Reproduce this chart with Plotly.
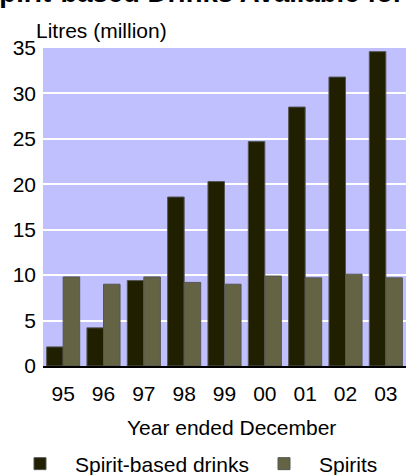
import plotly.graph_objects as go

years = ["95", "96", "97", "98", "99", "00", "01", "02", "03"]
spirit_based = [2.1, 4.2, 9.4, 18.6, 20.3, 24.7, 28.5, 31.8, 34.6]
spirits = [9.8, 9.0, 9.8, 9.2, 9.0, 9.9, 9.7, 10.1, 9.7]

FONT = "Liberation Sans, Arial, sans-serif"
W, H = 406, 475
# plot area in screen px: left 43, top 48, bottom 366, right 406
L, T = 43, 48
B = H - 366
R = 0
PW, PH = W - L - R, H - T - B

def px_x(s):  # screen px -> paper x
    return (s - L) / PW

def px_y(s):  # screen px -> paper y
    return (H - B - s) / PH

fig = go.Figure()
fig.add_trace(go.Bar(x=years, y=spirit_based, name="Spirit-based drinks", legend="legend",
                     marker=dict(color="#202000", line=dict(color="#555555", width=1))))
fig.add_trace(go.Bar(x=years, y=spirits, name="Spirits", legend="legend2",
                     marker=dict(color="#646444", line=dict(color="#555555", width=1))))

leg_common = dict(orientation="h", xref="container", yref="container", xanchor="left",
                  y=1 - 464 / H, yanchor="middle", itemwidth=60,
                  font=dict(size=21), bgcolor="rgba(0,0,0,0)")

fig.update_layout(
    width=W, height=H,
    margin=dict(l=L, r=R, t=T, b=B, pad=0, autoexpand=False),
    paper_bgcolor="white", plot_bgcolor="#C0C0FF",
    barmode="group", bargap=0.18, bargroupgap=0,
    font=dict(family=FONT, size=21, color="black"),
    showlegend=True,
    legend=dict(x=(40 - 35) / W, **leg_common),
    legend2=dict(x=(284 - 35) / W, **leg_common),
    xaxis=dict(showline=True, linecolor="black", linewidth=2, ticks="",
               ticklabelstandoff=8, showgrid=False, fixedrange=True),
    yaxis=dict(range=[0, 35], dtick=5, tick0=0, showgrid=True, gridcolor="white", gridwidth=1.5,
               zeroline=False, ticks="", ticklabelstandoff=6, showline=False, fixedrange=True),
    annotations=[
        dict(text="<b>Spirit-based Drinks Available for Consumption</b>", xref="paper", yref="paper",
             x=px_x(-21), y=px_y(-8), xanchor="left", yanchor="middle", showarrow=False,
             font=dict(size=27.5, family=FONT)),
        dict(text="Litres (million)", xref="paper", yref="paper",
             x=px_x(34), y=px_y(30), xanchor="left", yanchor="middle", showarrow=False,
             font=dict(size=21, family=FONT)),
        dict(text="Year ended December", xref="paper", yref="paper",
             x=px_x(231.5), y=px_y(427), xanchor="center", yanchor="middle", showarrow=False,
             font=dict(size=21, family=FONT)),
    ],
)

fig.write_html("out.html", config={"displayModeBar": False},
               post_script="document.body.style.margin='0';")
